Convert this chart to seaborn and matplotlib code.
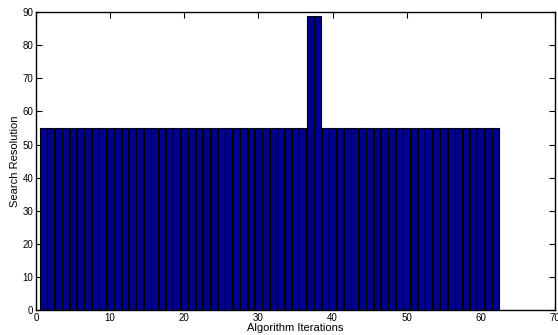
import matplotlib
matplotlib.use("Agg")
import matplotlib.pyplot as plt
import seaborn as sns
import pandas as pd

iterations = list(range(1, 63))
resolution = [55, 55, 55, 55, 55, 55, 55, 55, 55, 55,
              55, 55, 55, 55, 55, 55, 55, 55, 55, 55,
              55, 55, 55, 55, 55, 55, 55, 55, 55, 55,
              55, 55, 55, 55, 55, 55, 89, 89, 55, 55,
              55, 55, 55, 55, 55, 55, 55, 55, 55, 55,
              55, 55, 55, 55, 55, 55, 55, 55, 55, 55,
              55, 55]
x_ticks = [0, 10, 20, 30, 40, 50, 60, 70]
y_ticks = [0, 10, 20, 30, 40, 50, 60, 70, 80, 90]

sns.set_style("white")
plt.rcParams['font.family'] = ['Liberation Sans', 'DejaVu Sans']
plt.rcParams['text.color'] = 'black'
plt.rcParams['axes.labelcolor'] = 'black'
plt.rcParams['xtick.color'] = 'black'
plt.rcParams['ytick.color'] = 'black'

df = pd.DataFrame({"it": iterations, "res": resolution})

fig = plt.figure(figsize=(5.58, 3.35), dpi=100)
ax = fig.add_axes([0.0645, 0.0746, 0.930, 0.889])
sns.barplot(data=df, x="it", y="res", native_scale=True, width=0.92,
            color="#00008F", saturation=1, edgecolor="black", linewidth=0.8, ax=ax)
ax.set_xlim(0, 70)
ax.set_ylim(0, 90)
ax.set_xticks(x_ticks)
ax.set_yticks(y_ticks)
ax.tick_params(direction="in", length=4, width=0.8, labelsize=7, top=True, right=True,
               bottom=True, left=True, pad=2, colors="black")
for s in ax.spines.values():
    s.set_linewidth(1.0)
    s.set_color("black")
ax.set_xlabel("Algorithm Iterations", fontsize=8, labelpad=0, color="black")
ax.set_ylabel("Search Resolution", fontsize=8, labelpad=2, color="black")
fig.savefig("out.png", dpi=100)
